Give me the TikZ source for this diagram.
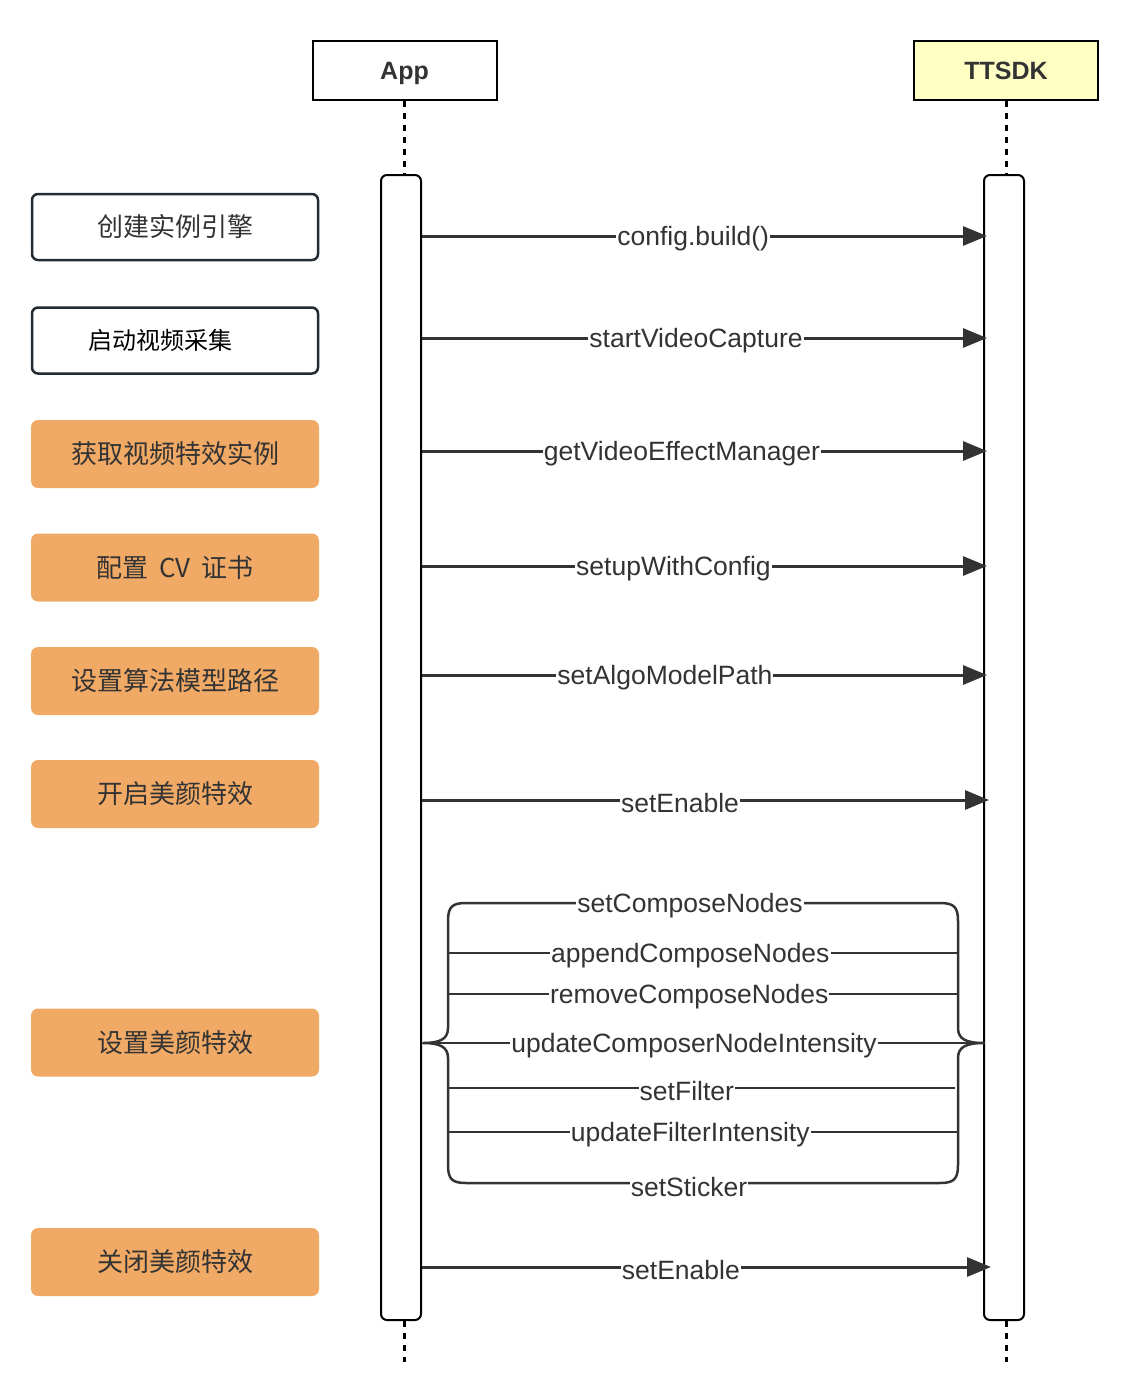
\documentclass[tikz,border=0pt]{standalone}
\usepackage{fontspec}
\setmainfont{Liberation Sans}
\newfontfamily\cjk{Noto Sans CJK SC}
\usetikzlibrary{arrows.meta}
\definecolor{ink}{HTML}{333333}
\definecolor{orng}{HTML}{F0AA66}
\definecolor{pale}{HTML}{FFFFC4}
\definecolor{edge}{HTML}{232B33}
\begin{document}
\begin{tikzpicture}[x=1pt,y=-1pt,
  head/.style={draw=black, line width=2pt, minimum width=184pt, minimum height=59pt, inner sep=0pt, font=\bfseries\fontsize{25}{30}\selectfont, text=ink, text depth=0pt, text height=18pt},
  actbar/.style={draw=black, line width=2pt, rounded corners=6pt, minimum width=40pt, minimum height=1145pt, inner sep=0pt, fill=white},
  stepw/.style={draw=edge, line width=2.5pt, rounded corners=6pt, fill=white, minimum width=286pt, minimum height=66pt, inner sep=0pt, font=\cjk\fontsize{26}{30}\selectfont, text=ink},
  stepo/.style={fill=orng, rounded corners=7pt, minimum width=288pt, minimum height=68pt, inner sep=0pt, font=\cjk\fontsize{26}{30}\selectfont, text=ink},
  msg/.style={draw=ink, line width=3pt, -{Triangle[length=24pt,width=19pt]}},
  grp/.style={draw=ink, line width=2.5pt},
  lbl/.style={fill=white, inner sep=1pt, yshift=-3pt, font=\fontsize{26.5}{30}\selectfont, text=ink},
  life/.style={draw=black, line width=3pt, dash pattern=on 6pt off 6pt}]
\useasboundingbox (0,0) rectangle (1148,1400);

% heads
\node[head] (app) at (404.5,70) {App};
\node[head, fill=pale] (sdk) at (1006,70) {TTSDK};

% activation bars
\node[actbar] (appbar) at (401,747.5) {};
\node[actbar] (sdkbar) at (1004,747.5) {};

% lifelines
\coordinate (append) at (404.5,1362);
\coordinate (sdkend) at (1006,1362);
\draw[life] (app.south) -- (app.south |- appbar.north);
\draw[life] (sdk.south) -- (sdk.south |- sdkbar.north);
\draw[life] (app.south |- appbar.south) -- (append);
\draw[life] (sdk.south |- sdkbar.south) -- (sdkend);

% left steps
\node[stepw] (s1) at (175,227) {创建实例引擎};
\node[stepw, text=black, font=\cjk\fontsize{24}{30}\selectfont] (s2) at (175,340.5) {\hspace*{-30pt}启动视频采集};
\node[stepo] (s3) at (175,454) {获取视频特效实例};
\node[stepo] (s4) at (175,567.5) {配置\hspace{5pt} CV\hspace{5pt} 证书};
\node[stepo] (s5) at (175,681) {设置算法模型路径};
\node[stepo] (s6) at (175,794) {开启美颜特效};
\node[stepo] (s7) at (175,1042.5) {设置美颜特效};
\node[stepo] (s8) at (175,1262) {关闭美颜特效};

% messages
\draw[msg] (appbar.east |- 0,236) -- ([xshift=4pt]sdkbar.west |- 0,236) node[lbl,pos=0.48] {config.build()};
\draw[msg] (appbar.east |- 0,338) -- ([xshift=4pt]sdkbar.west |- 0,338) node[lbl,pos=0.485] {startVideoCapture};
\draw[msg] (appbar.east |- 0,451) -- ([xshift=4pt]sdkbar.west |- 0,451) node[lbl,pos=0.46] {getVideoEffectManager};
\draw[msg] (appbar.east |- 0,566) -- ([xshift=4pt]sdkbar.west |- 0,566) node[lbl,pos=0.445] {setupWithConfig};
\draw[msg] (appbar.east |- 0,675) -- ([xshift=4pt]sdkbar.west |- 0,675) node[lbl,pos=0.43] {setAlgoModelPath};
\draw[msg] (appbar.east |- 0,800) -- ([xshift=6pt]sdkbar.west |- 0,800) node[lbl,pos=0.455] {setEnable};
\draw[msg] (appbar.east |- 0,1267) -- ([xshift=8pt]sdkbar.west |- 0,1267) node[lbl,pos=0.455] {setEnable};

% group bracket
\coordinate (gl) at (423,1043);
\coordinate (gr) at (984,1043);
\draw[grp, line join=round]
  (700,903) -- (466,903) .. controls (452,903) and (448,907) .. (448,921)
  -- (448,1028) .. controls (448,1039) and (440,1043) .. (gl)
  .. controls (440,1043) and (448,1047) .. (448,1058)
  -- (448,1165) .. controls (448,1179) and (452,1183) .. (466,1183)
  -- (940,1183) .. controls (954,1183) and (958,1179) .. (958,1165)
  -- (958,1058) .. controls (958,1047) and (966,1043) .. (gr)
  .. controls (966,1043) and (958,1039) .. (958,1028)
  -- (958,921) .. controls (958,907) and (954,903) .. (940,903) -- cycle;
\node[lbl] (t1) at (690,903) {setComposeNodes};
\node[lbl] (t7) at (689,1184) {setSticker};
\draw[grp] (gl) -- (gr) node[lbl,pos=0.483] {updateComposerNodeIntensity};
\draw[grp] (449,953) -- (957,953) node[lbl,pos=0.475] {appendComposeNodes};
\draw[grp] (449,994) -- (957,994) node[lbl,pos=0.473] {removeComposeNodes};
\draw[grp] (449,1088) -- (955,1088) node[lbl,pos=0.47] {setFilter};
\draw[grp] (449,1132) -- (957,1132) node[lbl,pos=0.475] {updateFilterIntensity};
\end{tikzpicture}
\end{document}
